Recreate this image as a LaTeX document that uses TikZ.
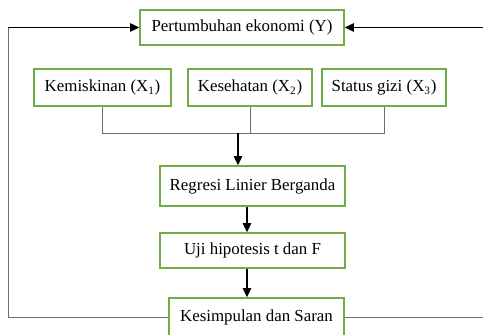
\documentclass[tikz,border=0pt]{standalone}
\usepackage{fontspec}
\setmainfont{Liberation Serif}
\usetikzlibrary{arrows.meta}
\definecolor{hijau}{RGB}{112,173,71}
\definecolor{abu}{RGB}{110,110,110}
\tikzset{kotak/.style={draw=hijau, line width=1pt, inner sep=0pt, font=\fontsize{12}{14}\selectfont},
  panah/.style={-{Triangle[length=6.5pt,width=6pt]}, line width=0.9pt},
  garis/.style={draw=abu, line width=0.6pt}}

\begin{document}
\begin{tikzpicture}[x=0.025cm,y=-0.025cm]
\useasboundingbox (0,0) rectangle (483,335);
\node[kotak, minimum width=5.1cm, minimum height=0.875cm] (ekonomi) at (242,27.5) {Pertumbuhan ekonomi (Y)};
\node[kotak, minimum width=3.425cm, minimum height=0.925cm] (miskin) at (102.5,87.5) {Kemiskinan (X\textsubscript{1})};
\node[kotak, minimum width=3.1cm, minimum height=0.925cm] (sehat) at (250,87.5) {Kesehatan (X\textsubscript{2})};
\node[kotak, minimum width=3.1cm, minimum height=0.925cm] (gizi) at (384,87.5) {Status gizi (X\textsubscript{3})};
\node[kotak, minimum width=4.625cm, minimum height=1cm] (regresi) at (252.5,186) {Regresi Linier Berganda};
\node[kotak, minimum width=4.625cm, minimum height=0.875cm] (uji) at (252.5,250.5) {Uji hipotesis t dan F};
\node[kotak, minimum width=4.375cm, minimum height=0.95cm] (simpulan) at (256.5,317) {Kesimpulan dan Saran};
% titik bantu
\coordinate (gabung) at (238,133);
\coordinate (poros) at (247,0);
\coordinate (kiriatas) at (8,27.5);
\coordinate (kiribawah) at (8,317);
\coordinate (kananatas) at (484,27.5);
\coordinate (kananbawah) at (484,317);
% variabel X ke regresi
\draw[garis] (miskin.south) -- (miskin.south |- gabung) -- (gizi.south |- gabung) -- (gizi.south);
\draw[garis] (sehat.south) -- (sehat.south |- gabung);
\draw[panah] (gabung) -- (gabung |- regresi.north);
\draw[panah] (regresi.south -| poros) -- (uji.north -| poros);
\draw[panah] (uji.south -| poros) -- (simpulan.north -| poros);
% umpan balik
\draw[garis] (simpulan.west) -- (kiribawah) -- (kiriatas);
\draw[panah] (kiriatas) -- (ekonomi.west);
\draw[garis] (simpulan.east) -- (kananbawah);
\draw[panah] (kananatas) -- (ekonomi.east);
\end{tikzpicture}
\end{document}
